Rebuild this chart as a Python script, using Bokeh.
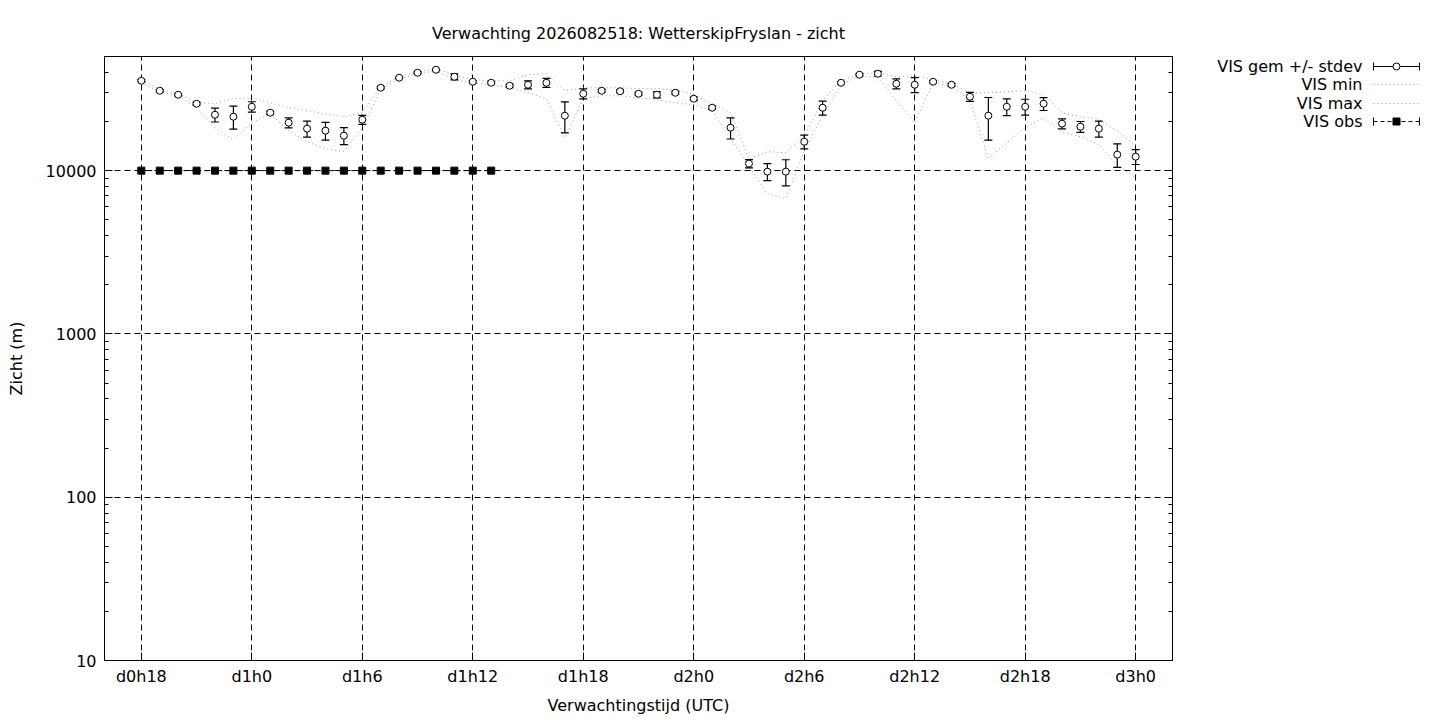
from bokeh.plotting import figure
from bokeh.models import Range1d, FixedTicker, LogAxis, PrintfTickFormatter, CustomJSTickFormatter
from bokeh.layouts import row
from bokeh.embed import file_html
from bokeh.resources import INLINE
from bokeh.core.properties import value

# ---------------- data ----------------
hours = list(range(18, 73))
vis_mean = [35500, 30850, 29160, 25690, 22000, 21390, 24620, 22630, 19660, 18070,
            17570, 16370, 20510, 32190, 37060, 39760, 41470, 37580, 35020, 34530,
            33110, 33570, 34530, 21700, 29570, 30850, 30640, 29570, 29160, 29990,
            27560, 24280, 18320, 11040, 9860, 9860, 15040, 24280, 34530, 38660,
            39210, 34050, 33570, 35020, 33570, 28350, 21700, 24620, 24620, 25690,
            19390, 18580, 18070, 12530, 12180]
vis_sd = [600, 500, 500, 500, 2140, 3450, 1800, 500, 1365, 2015,
          2200, 1950, 1300, 500, 500, 500, 500, 1590, 600, 600,
          600, 1900, 2175, 4670, 2085, 600, 600, 600, 1235, 600,
          600, 600, 2700, 630, 1175, 1800, 1465, 2400, 600, 600,
          1370, 2370, 3535, 600, 600, 1785, 6345, 2895, 2740, 2335,
          1350, 1410, 2040, 2065, 1280]
vis_min = [34530, 30420, 28750, 24280, 18320, 15470, 19660, 22310, 17570, 15040,
           13630, 13070, 18320, 31290, 36540, 39210, 40900, 36030, 34530, 33570,
           32190, 29990, 27560, 15910, 27560, 28750, 28750, 27950, 27180, 26050,
           25330, 23280, 15690, 10600, 7230, 6740, 13250, 21700, 33570, 38110,
           37060, 26800, 19660, 34500, 33000, 26800, 11840, 14830, 18320, 21100,
           17080, 16140, 14420, 10730, 9060]
vis_max = [36030, 31290, 29570, 26050, 25690, 27560, 27950, 26050, 24280, 23280,
           22310, 21390, 22630, 32640, 37580, 40320, 42050, 38660, 36030, 35520,
           35520, 38660, 39210, 30850, 32190, 32190, 32190, 31730, 31730, 31290,
           29160, 25690, 22630, 11800, 13070, 12890, 16370, 26800, 35520, 39210,
           39760, 37580, 38110, 36030, 34050, 29990, 29990, 30420, 30850, 29160,
           22630, 21390, 20510, 17570, 14220]
obs_hours = list(range(18, 38))
obs_vis = [10000] * 20

x_tick_hours = [18, 24, 30, 36, 42, 48, 54, 60, 66, 72]
x_tick_labels = ["d0h18", "d1h0", "d1h6", "d1h12", "d1h18", "d2h0",
                 "d2h6", "d2h12", "d2h18", "d3h0"]
y_major_ticks = [10, 100, 1000, 10000]
y_minor_ticks = [20, 30, 40, 50, 60, 70, 80, 90,
                 200, 300, 400, 500, 600, 700, 800, 900,
                 2000, 3000, 4000, 5000, 6000, 7000, 8000, 9000,
                 20000, 30000, 40000]

title_text = "Verwachting 2026082518: WetterskipFryslan - zicht"
x_label = "Verwachtingstijd (UTC)"
y_label = "Zicht (m)"
legend_labels = ["VIS gem +/- stdev", "VIS min", "VIS max", "VIS obs"]

FONT = "DejaVu Sans"
FS = "16px"
GRID_DASH = "6 4"
MINMAX_COLOR = "#9a9a9a"

MAIN_W, LEG_W, H = 1200, 232, 718

# ---------------- main plot ----------------
p = figure(width=MAIN_W, height=H,
           x_range=Range1d(16, 74), y_range=Range1d(10, 50000),
           y_axis_type="log", output_backend="svg", toolbar_location=None,
           min_border_left=104, min_border_right=28,
           min_border_top=56, min_border_bottom=H - 660,
           background_fill_color="white", border_fill_color="white",
           title=title_text)

p.title.align = "center"
p.title.text_font = FONT
p.title.text_font_size = FS
p.title.text_font_style = "normal"
p.title.text_color = "black"
p.title.standoff = 28

p.outline_line_color = "black"
p.outline_line_width = 1

xt = FixedTicker(ticks=x_tick_hours)
yt = FixedTicker(ticks=y_major_ticks, minor_ticks=y_minor_ticks)

xa = p.xaxis[0]
xa.ticker = xt
xa.major_label_overrides = {h: lab for h, lab in zip(x_tick_hours, x_tick_labels)}
xa.axis_label = x_label
ya = p.yaxis[0]
ya.ticker = yt
ya.formatter = PrintfTickFormatter(format="%d")
ya.axis_label = y_label

for ax in (xa, ya):
    ax.axis_line_color = "black"
    ax.major_tick_line_color = "black"
    ax.minor_tick_line_color = "black"
    ax.major_tick_in = 8
    ax.major_tick_out = 0
    ax.minor_tick_in = 4
    ax.minor_tick_out = 0
    ax.major_label_text_font = FONT
    ax.major_label_text_font_size = FS
    ax.major_label_text_color = "black"
    ax.axis_label_text_font = FONT
    ax.axis_label_text_font_size = FS
    ax.axis_label_text_font_style = "normal"
    ax.axis_label_text_color = "black"
xa.minor_tick_line_color = None
xa.major_label_standoff = 6
xa.axis_label_standoff = 7
ya.major_label_standoff = 8
ya.axis_label_standoff = 17

# mirrored ticks on the right (no labels)
blank = CustomJSTickFormatter(code="return '';")
ra = LogAxis(ticker=yt, formatter=blank, axis_line_color="black",
             major_tick_in=8, major_tick_out=0, minor_tick_in=4, minor_tick_out=0,
             major_tick_line_color="black", minor_tick_line_color="black",
             major_label_standoff=0)
p.add_layout(ra, "right")

p.xgrid.ticker = xt
p.ygrid.ticker = yt
for g in (p.xgrid[0], p.ygrid[0]):
    g.grid_line_color = "black"
    g.grid_line_dash = GRID_DASH
    g.grid_line_width = 1
    g.grid_line_alpha = 1.0

# min / max dotted lines
p.line(hours, vis_min, line_color=MINMAX_COLOR, line_dash="1 3", line_width=1)
p.line(hours, vis_max, line_color=MINMAX_COLOR, line_dash="1 3", line_width=1)

# observations
p.line(obs_hours, obs_vis, line_color="black", line_dash="4 3", line_width=1)
p.scatter(obs_hours, obs_vis, marker="square", size=7, fill_color="black",
          line_color="black")

# error bars
lo = [m - s for m, s in zip(vis_mean, vis_sd)]
up = [m + s for m, s in zip(vis_mean, vis_sd)]
p.segment(x0=hours, y0=lo, x1=hours, y1=up, line_color="black", line_width=1.2)
p.scatter(hours, lo, marker="dash", size=8, line_color="black", line_width=1.2)
p.scatter(hours, up, marker="dash", size=8, line_color="black", line_width=1.2)
p.scatter(hours, vis_mean, marker="circle", size=7, fill_color="white",
          line_color="black", line_width=1)

# ---------------- legend panel (coordinates = page pixels) ----------------
lg = figure(width=LEG_W, height=H,
            x_range=Range1d(MAIN_W, MAIN_W + LEG_W), y_range=Range1d(660, 56),
            output_backend="svg", toolbar_location=None,
            x_axis_location=None, y_axis_location=None,
            min_border=0, min_border_top=56, min_border_bottom=H - 660,
            background_fill_color="white", border_fill_color="white")
lg.outline_line_color = None
lg.xgrid.visible = False
lg.ygrid.visible = False

rows_y = [66, 84, 103, 121]
tx = [1362, 1362, 1362, 1362]
sx0, sx1, sxc = 1373, 1419, 1396
lg.text(x=tx, y=rows_y, text=legend_labels, text_align="right",
        text_baseline="middle", text_font=value(FONT), text_font_size=value(FS),
        text_color="black")
# row 1: errorbar sample
lg.segment(x0=[sx0], y0=[rows_y[0]], x1=[sx1], y1=[rows_y[0]], line_color="black")
lg.segment(x0=[sx0, sx1], y0=[rows_y[0] - 4] * 2, x1=[sx0, sx1], y1=[rows_y[0] + 4] * 2,
           line_color="black")
lg.scatter([sxc], [rows_y[0]], marker="circle", size=7, fill_color="white",
           line_color="black")
# rows 2,3: dotted
lg.segment(x0=[sx0, sx0], y0=rows_y[1:3], x1=[sx1, sx1], y1=rows_y[1:3],
           line_color=MINMAX_COLOR, line_dash="1 3")
# row 4: obs
lg.segment(x0=[sx0], y0=[rows_y[3]], x1=[sx1], y1=[rows_y[3]], line_color="black",
           line_dash="4 3")
lg.segment(x0=[sx0, sx1], y0=[rows_y[3] - 4] * 2, x1=[sx0, sx1], y1=[rows_y[3] + 4] * 2,
           line_color="black")
lg.scatter([sxc], [rows_y[3]], marker="square", size=7, fill_color="black",
           line_color="black")

layout = row(p, lg)
open("out.html", "w").write(file_html(layout, INLINE))
